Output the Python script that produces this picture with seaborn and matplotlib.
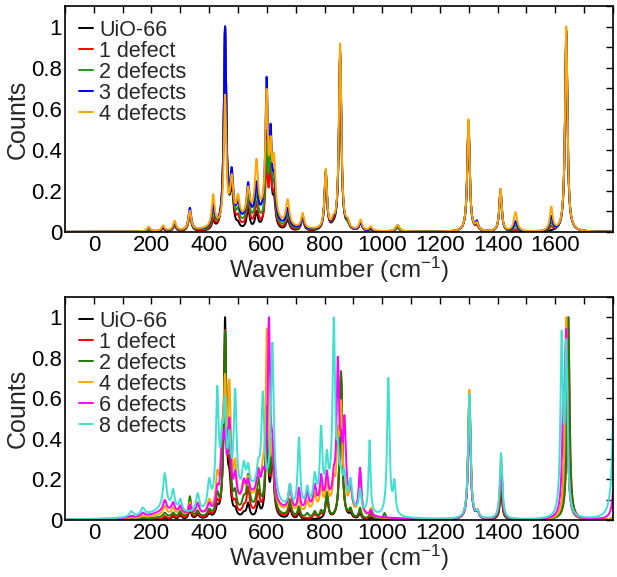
import numpy as np
import pandas as pd
import matplotlib
matplotlib.use('Agg')
import matplotlib.pyplot as plt
import seaborn as sns
from matplotlib.ticker import MultipleLocator, FixedLocator, FormatStrFormatter

sns.set_theme(style="white")
plt.rcParams['font.family'] = ['Liberation Sans', 'DejaVu Sans']
plt.rcParams['mathtext.default'] = 'regular'

# peak list of the top panel (cm-1), half widths, and peak heights per structure
top_pos = [190, 240, 280, 333, 414, 455, 478, 500, 535, 564, 599, 613, 625, 672, 724,
           804, 830, 854, 880, 925, 960, 1053, 1299, 1328, 1410, 1462, 1586, 1638, 560]
top_wid = [6, 6, 6, 6, 6, 5, 7, 6, 6, 6, 5, 5, 6, 7, 6,
           5, 6, 5, 6, 6, 6, 8, 5, 6, 5, 7, 6, 5, 70]
top_uio66 = [.01, .015, .03, .08, .04, .97, .18, .02, .10, .08, .45, .25, .12, .05, .06,
             .28, .01, .86, .02, .04, .01, .02, .53, .02, .20, .00, .00, .97, .00]
top_1def = [.01, .015, .03, .08, .05, .97, .20, .04, .12, .11, .28, .26, .14, .06, .06,
            .28, .02, .86, .02, .04, .01, .02, .53, .02, .20, .01, .02, .97, .02]
top_2def = [.01, .02, .035, .09, .08, .97, .22, .06, .14, .14, .36, .34, .16, .07, .06,
            .28, .03, .86, .02, .04, .01, .02, .53, .03, .20, .03, .04, .97, .04]
top_3def = [.02, .02, .04, .11, .11, .97, .24, .08, .17, .16, .66, .38, .18, .09, .06,
            .28, .03, .86, .03, .04, .01, .03, .54, .04, .21, .05, .07, .97, .06]
top_4def = [.02, .025, .045, .09, .15, .60, .20, .10, .12, .24, .56, .28, .26, .12, .07,
            .28, .03, .88, .03, .05, .02, .03, .53, .03, .20, .09, .11, .97, .08]

# peak list of the bottom panel
bot_pos = [130, 170, 246, 275, 300, 333, 360, 400, 428, 445, 455, 470, 490, 520, 535, 570,
           586, 600, 607, 619, 680, 711, 740, 766, 788, 808, 832, 846, 857, 869, 890, 923,
           956, 961, 1008, 1021, 1042, 1302, 1330, 1412, 1622, 1628, 1638, 1645, 1808,
           250, 560, 820]
bot_wid = [8, 8, 7, 6, 6, 5, 7, 7, 6, 6, 5, 6, 6, 7, 6, 6,
           6, 5, 5, 6, 6, 5, 6, 6, 5, 5, 5, 5, 5, 6, 6, 5,
           4, 5, 5, 5, 5, 5, 6, 5, 5, 5, 5, 5, 6,
           60, 70, 60]
bot_uio66 = [0, 0, .01, .015, .02, .05, .02, .02, .04, 0, .97, .15, .03, .02, .07, .07,
             0, .45, 0, .30, .05, .03, 0, 0, 0, .12, 0, 0, .70, 0, .02, .03,
             0, .01, 0, 0, 0, .58, .03, .14, 0, 0, .95, 0, 0,
             0, 0, 0]
bot_1def = [0, 0, .015, .02, .025, .07, .025, .025, .06, 0, .86, .20, .05, .03, .12, .10,
            0, .48, 0, .30, .06, .04, 0, .02, .02, .12, 0, 0, .70, 0, .03, .04,
            0, .03, 0, 0, 0, .59, .03, .15, 0, 0, 0, .96, .02,
            0, .02, 0]
bot_2def = [0, .005, .02, .02, .03, .10, .03, .03, .09, 0, .84, .30, .08, .05, .16, .14,
            0, .48, 0, .30, .08, .05, .02, .03, .03, .12, 0, 0, .70, 0, .04, .05,
            0, .05, .03, 0, 0, .60, .03, .18, 0, 0, 0, .97, .04,
            .01, .04, 0]
bot_4def = [.005, .01, .04, .03, .04, .06, .06, .06, .15, .30, .50, .55, .18, .08, .10, .12,
            .10, .80, 0, .28, .12, .07, .05, .08, .10, .12, .10, .30, .45, .10, .12, .20,
            0, .04, 0, 0, 0, .62, .03, .30, 0, 0, .97, 0, .05,
            .02, .08, .05]
bot_6def = [.01, .02, .06, .05, .04, .05, .06, .05, .10, .35, .30, .45, .15, .10, .08, .12,
            .10, 0, .97, .25, .14, .12, .10, .12, .15, .15, .10, .75, .20, .45, .10, .25,
            0, .03, 0, 0, 0, .60, .03, .30, 0, .55, .95, 0, .45,
            .04, .12, .08]
bot_8def = [.03, .04, .19, .10, .06, 0, .10, .15, .62, .30, .45, .30, .58, .15, .12, .10,
            .52, 0, 0, .85, .12, .38, .10, .15, .38, .20, .95, .20, .10, .15, .15, .12,
            .40, 0, 0, .75, .17, .68, .03, .36, .95, 0, .90, 0, 1.6,
            .05, .14, .10]

top_labels = ['UiO-66', '1 defect', '2 defects', '3 defects', '4 defects']
top_heights = [top_uio66, top_1def, top_2def, top_3def, top_4def]
top_colors = ['black', '#ff0000', '#1a9a1a', '#0000ff', '#ffa500']

bot_labels = ['UiO-66', '1 defect', '2 defects', '4 defects', '6 defects', '8 defects']
bot_heights = [bot_uio66, bot_1def, bot_2def, bot_4def, bot_6def, bot_8def]
bot_colors = ['black', '#ff0000', '#1e7d00', '#ffa500', '#ff00ff', '#40e0d0']

wn = np.linspace(-100, 1800, 3801)


def spectrum(pos, amp, wid):
	# lorentzian broadening of the peak list, normalised to 1
	y = np.zeros_like(wn)
	for p, a, g in zip(pos, amp, wid):
		y += a * g ** 2 / ((wn - p) ** 2 + g ** 2)
	return y / y.max()


def make_df(pos, wid, labels, heights):
	frames = []
	for lab, amp in zip(labels, heights):
		frames.append(pd.DataFrame({'Wavenumber': wn, 'Counts': spectrum(pos, amp, wid), 'Series': lab}))
	return pd.concat(frames, ignore_index=True)


top_df = make_df(top_pos, top_wid, top_labels, top_heights)
bot_df = make_df(bot_pos, bot_wid, bot_labels, bot_heights)

fig = plt.figure(figsize=(6.17, 5.77), dpi=100)
ax1 = fig.add_axes([0.1053, 0.5979, 0.8882, 0.3917])
ax2 = fig.add_axes([0.1053, 0.0988, 0.8882, 0.3865])

for ax, df, labels, colors in ((ax1, top_df, top_labels, top_colors), (ax2, bot_df, bot_labels, bot_colors)):
	sns.lineplot(data=df, x='Wavenumber', y='Counts', hue='Series', hue_order=labels,
	             palette=dict(zip(labels, colors)), estimator=None, linewidth=1.4, ax=ax)
	ax.set_xlim(-100, 1800)
	ax.set_ylim(0, 1.1)
	ax.xaxis.set_major_locator(FixedLocator(range(0, 1601, 200)))
	ax.xaxis.set_minor_locator(MultipleLocator(100))
	ax.yaxis.set_major_locator(MultipleLocator(0.2))
	ax.yaxis.set_minor_locator(MultipleLocator(0.1))
	ax.yaxis.set_major_formatter(FormatStrFormatter('%g'))
	ax.tick_params(which='both', direction='in', top=True, right=True, length=5, width=1,
	               colors='black', labelsize=16, pad=2)
	for sp in ax.spines.values():
		sp.set_color('black')
		sp.set_linewidth(1.2)
	ax.set_xlabel('Wavenumber (cm$^{-1}$)', fontsize=17.5, labelpad=-1)
	ax.set_ylabel('Counts', fontsize=18, labelpad=1)
	handles, labs = ax.get_legend_handles_labels()
	ax.legend(handles, labs, loc='upper left', frameon=False, fontsize=15.5, handlelength=0.65,
	          handletextpad=0.3, labelspacing=0.0, borderaxespad=0.3, borderpad=0.35)

fig.savefig('out.png', dpi=100)
